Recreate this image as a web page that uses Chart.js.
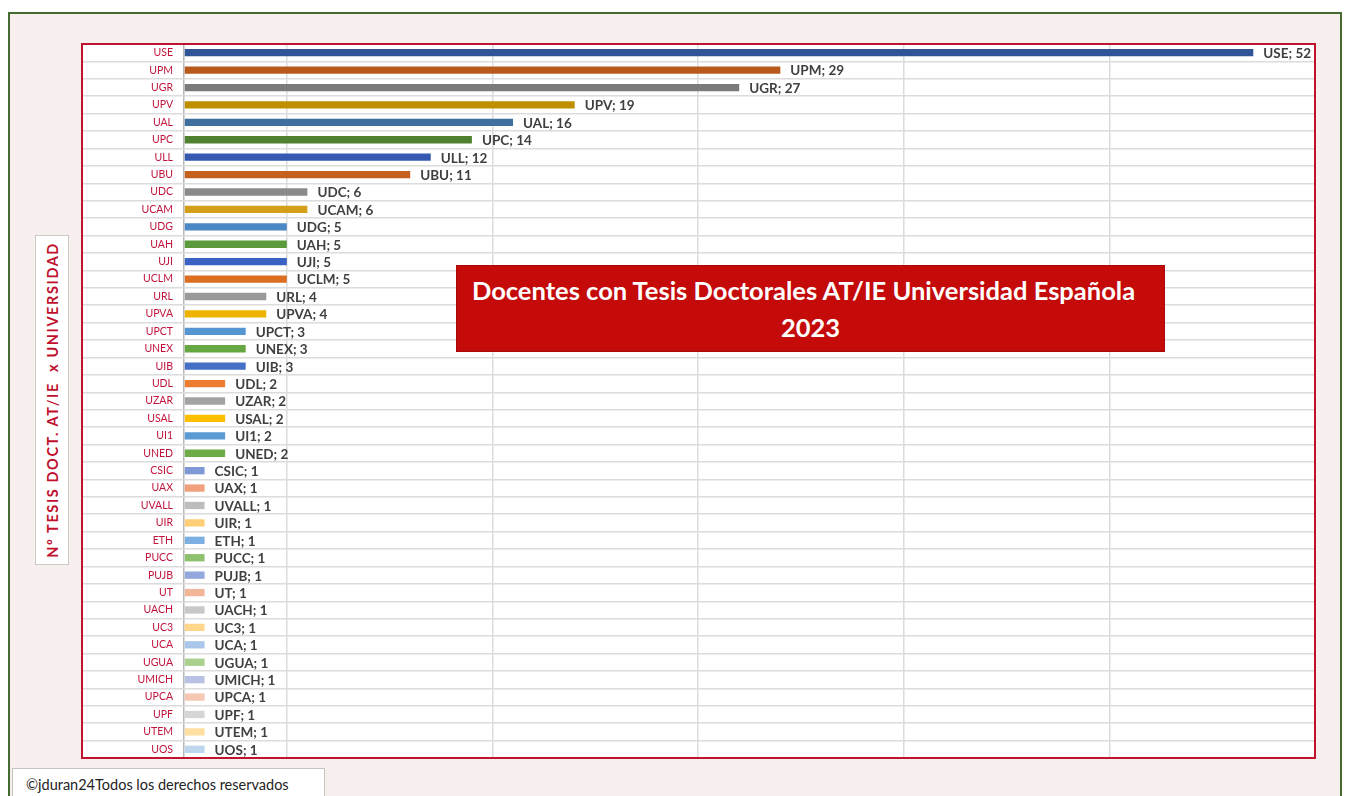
<!DOCTYPE html>
<html>
<head>
<meta charset="utf-8">
<script src="https://cdn.jsdelivr.net/npm/chart.js@4.4.1/dist/chart.umd.min.js"></script>
<style>
  html, body { margin: 0; padding: 0; background: #ffffff; }
  body { width: 1349px; height: 796px; position: relative; overflow: hidden; font-family: Lato, "Open Sans", sans-serif; }
  #frame { position: absolute; left: 8px; top: 12px; width: 1334px; height: 800px; background: #f7eeee; border: 2px solid #466b30; box-sizing: border-box; }
  #wrap { position: absolute; left: 0; top: 0; width: 1349px; height: 796px; }
  #axisTitle { position: absolute; left: 35px; top: 235px; width: 34px; height: 330px; background: #fff; border: 1px solid #c9c9c9; box-sizing: border-box; display: flex; align-items: center; justify-content: center; }
  #axisTitle span { writing-mode: vertical-rl; transform: rotate(180deg); color: #c0102e; font-weight: bold; font-size: 14.5px; letter-spacing: 1.6px; white-space: pre; }
  #titleBox { position: absolute; left: 456px; top: 265px; width: 709px; height: 87px; background: #c50a0a; border: 1px solid #a80808; box-sizing: border-box; color: #fff; font-weight: bold; font-size: 25.5px; text-align: center; line-height: 37px; padding-top: 6px; }
  #titleBox .l1 { margin-left: -14px; }
  #footer { position: absolute; left: 12px; top: 768px; width: 313px; height: 40px; background: #fff; border: 1px solid #c4c4c4; box-sizing: border-box; font-size: 14.5px; color: #222; padding: 7px 0 0 13px; }
</style>
</head>
<body>
<div id="frame"></div>
<div id="wrap"><canvas id="chart" width="1349" height="796"></canvas></div>
<div id="axisTitle"><span>Nº TESIS DOCT. AT/IE  x UNIVERSIDAD</span></div>
<div id="titleBox"><span class="l1">Docentes con Tesis Doctorales AT/IE Universidad Española</span><br>2023</div>
<div id="footer">©jduran24Todos los derechos reservados</div>
<script>
const universities = ["USE", "UPM", "UGR", "UPV", "UAL", "UPC", "ULL", "UBU", "UDC", "UCAM",
  "UDG", "UAH", "UJI", "UCLM", "URL", "UPVA", "UPCT", "UNEX", "UIB", "UDL",
  "UZAR", "USAL", "UI1", "UNED", "CSIC", "UAX", "UVALL", "UIR", "ETH", "PUCC",
  "PUJB", "UT", "UACH", "UC3", "UCA", "UGUA", "UMICH", "UPCA", "UPF", "UTEM", "UOS"];

const thesisCount = [52, 29, 27, 19, 16, 14, 12, 11, 6, 6,
  5, 5, 5, 5, 4, 4, 3, 3, 3, 2,
  2, 2, 2, 2, 1, 1, 1, 1, 1, 1,
  1, 1, 1, 1, 1, 1, 1, 1, 1, 1, 1];

const barColors = ["#2f5597", "#b85a1c", "#7a7a7a", "#bf8f00", "#3e6f9e", "#4f8130", "#3559b0", "#c6601e", "#8a8a8a", "#d4a01a",
  "#4a88c6", "#5a9a3a", "#3a62c2", "#dc6e22", "#9a9a9a", "#eeb200", "#5596d2", "#65a842", "#4470c6", "#ec7c30",
  "#a3a3a3", "#ffbf00", "#5b9bd5", "#6cab45", "#7e99d6", "#f0a07a", "#bdbdbd", "#ffcf78", "#7cb0e2", "#8fc06e",
  "#93a9dd", "#f2b598", "#c8c8c8", "#ffd68a", "#a9c7ea", "#a9d08d", "#b7c2e4", "#f6c7b2", "#d6d6d6", "#ffdfa2", "#bdd6ee"];

// gridlines in the original sit at 5, 15, 25 ...
const gridValues = [0, 5, 15, 25, 35, 45];

const frameAndLabels = {
  id: "frameAndLabels",
  beforeDraw(chart) {
    const { ctx, chartArea, scales } = chart;
    ctx.save();
    ctx.fillStyle = "#ffffff";
    ctx.fillRect(scales.y.left, chartArea.top, chartArea.right - scales.y.left, chartArea.bottom - chartArea.top);
    ctx.restore();
  },
  afterDatasetsDraw(chart) {
    const { ctx } = chart;
    const meta = chart.getDatasetMeta(0);
    ctx.save();
    ctx.font = "bold 13.5px Lato, 'Open Sans', sans-serif";
    ctx.fillStyle = "#404040";
    ctx.textBaseline = "middle";
    ctx.textAlign = "left";
    meta.data.forEach((bar, i) => {
      ctx.fillText(universities[i] + "; " + thesisCount[i], bar.x + 10, bar.y + 1);
    });
    ctx.restore();
  },
  afterDraw(chart) {
    const { ctx, chartArea, scales } = chart;
    ctx.save();
    ctx.strokeStyle = "#c0142e";
    ctx.lineWidth = 2;
    ctx.strokeRect(scales.y.left, chartArea.top, chartArea.right - scales.y.left, chartArea.bottom - chartArea.top);
    ctx.restore();
  }
};

new Chart(document.getElementById("chart"), {
  type: "bar",
  data: {
    labels: universities,
    datasets: [{
      data: thesisCount,
      backgroundColor: barColors,
      categoryPercentage: 1,
      barPercentage: 0.42
    }]
  },
  options: {
    indexAxis: "y",
    responsive: false,
    animation: false,
    layout: { padding: { left: 82, top: 44, right: 34, bottom: 38 } },
    plugins: { legend: { display: false }, tooltip: { enabled: false } },
    scales: {
      x: {
        min: 0,
        max: 55,
        afterBuildTicks: (scale) => { scale.ticks = gridValues.map(v => ({ value: v })); },
        ticks: { display: false },
        grid: { color: (c) => c.tick && c.tick.value === 0 ? "#b8b8b8" : "#dcdcdc", lineWidth: 1.5, drawTicks: false },
        border: { display: false }
      },
      y: {
        afterFit: (scale) => { scale.width = 102; },
        grid: { offset: true, color: "#dcdcdc", lineWidth: 1.5, drawTicks: true, tickLength: 102 },
        border: { display: false },
        ticks: { color: "#c0143c", padding: -91, autoSkip: false, font: { size: 10.5, family: "Lato, 'Open Sans', sans-serif" } }
      }
    }
  },
  plugins: [frameAndLabels]
});
</script>
</body>
</html>
